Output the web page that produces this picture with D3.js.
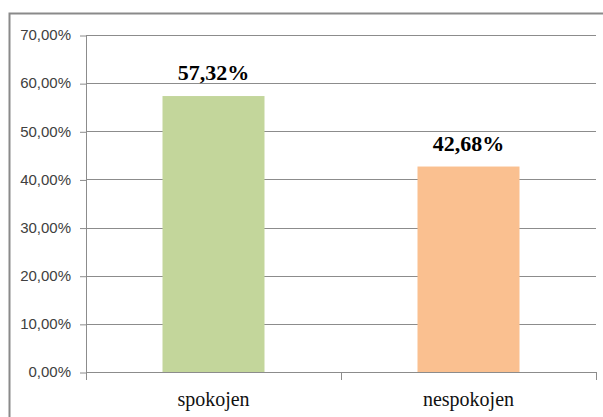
<!DOCTYPE html>
<html>
<head>
<meta charset="utf-8">
<script src="https://cdn.jsdelivr.net/npm/d3@7"></script>
<style>
  body { margin: 0; background: #fff; }
  svg { display: block; }
</style>
</head>
<body>
<svg id="container"></svg>
<script>
const categories = ['spokojen', 'nespokojen'];
const values = [57.32, 42.68];
const colors = ['#C3D69B', '#FAC090'];
const yTicks = [0, 10, 20, 30, 40, 50, 60, 70];

const W = 603, H = 417;
const margin = { top: 35, right: 7, bottom: 45, left: 86 };
const w = W - margin.left - margin.right;
const h = H - margin.top - margin.bottom;

const fmt = (v) => v.toFixed(2).replace('.', ',') + '%';

const root = d3.select('#container').attr('width', W).attr('height', H);

// outer chart frame
root.append('path')
  .attr('d', 'M9.5,' + H + ' V13.5 H' + W)
  .attr('fill', 'none')
  .attr('stroke', '#8a8a8a')
  .attr('stroke-width', 2);

const svg = root.append('g')
  .attr('transform', 'translate(' + margin.left + ',' + margin.top + ')');

const x = d3.scaleBand()
  .domain(categories)
  .range([0, w])
  .paddingInner(0.6)
  .paddingOuter(0.3);

const y = d3.scaleLinear().domain([0, 70]).range([h, 0]);

// gridlines
svg.append('g')
  .selectAll('line')
  .data(yTicks)
  .enter()
  .append('line')
  .attr('x1', 0)
  .attr('x2', w)
  .attr('y1', (d) => Math.round(y(d)) + 0.5)
  .attr('y2', (d) => Math.round(y(d)) + 0.5)
  .attr('stroke', '#8c8c8c')
  .attr('stroke-width', 1);

// y axis
const yAxis = d3.axisLeft(y)
  .tickValues(yTicks)
  .tickSize(6)
  .tickPadding(9)
  .tickFormat(fmt);

const gY = svg.append('g').attr('class', 'axis y-axis').call(yAxis);
gY.select('.domain').remove();
gY.selectAll('.tick line').attr('stroke', '#8c8c8c')
  .attr('transform', 'translate(0,0.5)');
gY.selectAll('.tick text')
  .attr('fill', '#404040')
  .style('font-family', '"Liberation Sans", Arial, sans-serif')
  .style('font-size', '15px');

svg.append('line')
  .attr('x1', 0.5).attr('x2', 0.5)
  .attr('y1', 0).attr('y2', h + 7)
  .attr('stroke', '#8c8c8c');

// x axis ticks between categories
const edges = [0, w / 2, w];
svg.append('g')
  .selectAll('line')
  .data(edges)
  .enter()
  .append('line')
  .attr('x1', (d) => Math.round(d) + 0.5)
  .attr('x2', (d) => Math.round(d) + 0.5)
  .attr('y1', h)
  .attr('y2', h + 8)
  .attr('stroke', '#8c8c8c');

// category labels
svg.append('g')
  .selectAll('text')
  .data(categories)
  .enter()
  .append('text')
  .attr('x', (d) => x(d) + x.bandwidth() / 2)
  .attr('y', h + 34)
  .attr('text-anchor', 'middle')
  .attr('fill', '#111')
  .style('font-family', '"Liberation Serif", "Times New Roman", serif')
  .style('font-size', '20px')
  .text((d) => d);

// bars
svg.append('g')
  .selectAll('rect')
  .data(values)
  .enter()
  .append('rect')
  .attr('x', (d, i) => x(categories[i]))
  .attr('y', (d) => y(d))
  .attr('width', x.bandwidth())
  .attr('height', (d) => h - y(d))
  .attr('fill', (d, i) => colors[i]);

// value labels
svg.append('g')
  .selectAll('text')
  .data(values)
  .enter()
  .append('text')
  .attr('x', (d, i) => x(categories[i]) + x.bandwidth() / 2)
  .attr('y', (d) => y(d) - 16)
  .attr('text-anchor', 'middle')
  .attr('fill', '#000')
  .style('font-family', '"Liberation Serif", "Times New Roman", serif')
  .style('font-weight', 'bold')
  .style('font-size', '22px')
  .text((d) => fmt(d));
</script>
</body>
</html>
